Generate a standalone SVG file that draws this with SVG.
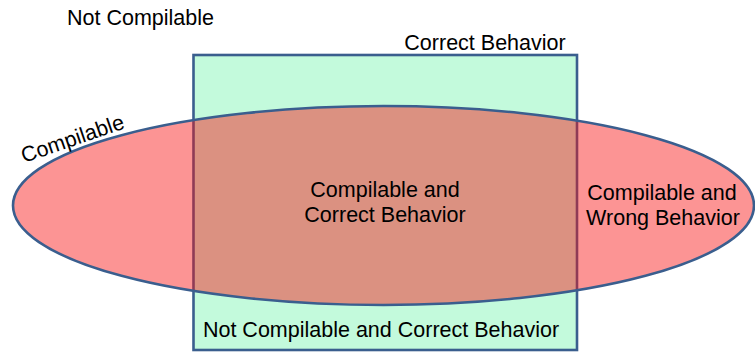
<svg xmlns="http://www.w3.org/2000/svg" width="755" height="352" viewBox="0 0 755 352">
  <style>
    .lbl { font-family: "Liberation Sans", Arial, sans-serif; font-size: 21.5px; fill: #000000; }
    .shape { stroke: #3a5e8e; stroke-width: 2.6; }
  </style>
  <rect x="0" y="0" width="755" height="352" fill="#ffffff"/>
  <g id="not-compilable">
    <text class="lbl" x="67" y="25">Not Compilable</text>
  </g>
  <g id="correct-behavior">
    <rect class="shape" x="193.5" y="55" width="383.5" height="295" fill="#c3fadc"/>
    <text class="lbl" x="485" y="50" text-anchor="middle">Correct Behavior</text>
  </g>
  <g id="compilable">
    <ellipse class="shape" cx="383.5" cy="205.5" rx="370.5" ry="99.5" fill="#f91212" fill-opacity="0.45"/>
    <text class="lbl" x="24" y="163" transform="rotate(-19 24 163)">Compilable</text>
  </g>
  <g id="compilable-correct">
    <text class="lbl" x="385" y="197" text-anchor="middle">Compilable and</text>
    <text class="lbl" x="385" y="222" text-anchor="middle">Correct Behavior</text>
  </g>
  <g id="compilable-wrong">
    <text class="lbl" x="662" y="200" text-anchor="middle">Compilable and</text>
    <text class="lbl" x="663" y="225" text-anchor="middle">Wrong Behavior</text>
  </g>
  <g id="not-compilable-correct">
    <text class="lbl" x="381" y="337" text-anchor="middle">Not Compilable and Correct Behavior</text>
  </g>
  <g id="connectors"/>
</svg>
